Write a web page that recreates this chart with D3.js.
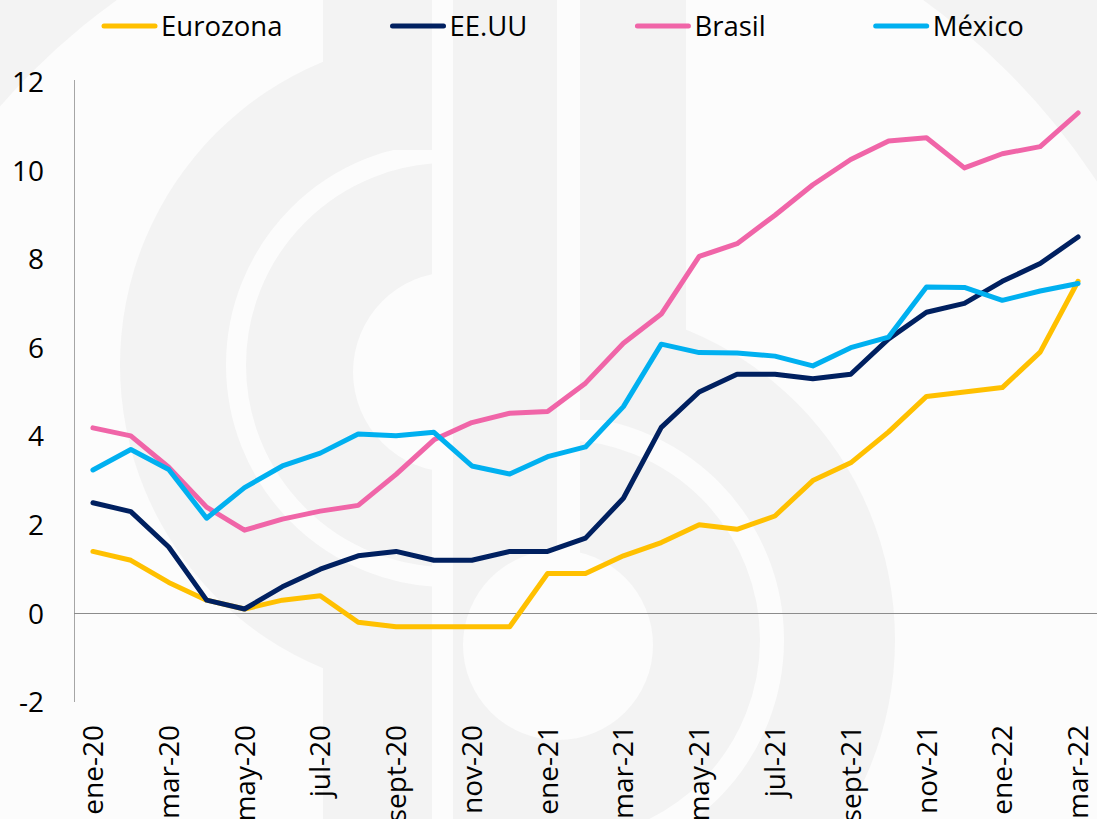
<!DOCTYPE html>
<html>
<head>
<meta charset="utf-8">
<script src="https://cdn.jsdelivr.net/npm/d3@7"></script>
<style>
  html, body { margin: 0; padding: 0; background: #fcfcfc; }
  svg { display: block; font-family: "Open Sans", sans-serif; }
</style>
</head>
<body>
<div id="chart"></div>
<script>
// monthly inflation, ene-20 .. mar-22
var months = ["ene-20","feb-20","mar-20","abr-20","may-20","jun-20","jul-20","ago-20","sept-20","oct-20","nov-20","dic-20",
              "ene-21","feb-21","mar-21","abr-21","may-21","jun-21","jul-21","ago-21","sept-21","oct-21","nov-21","dic-21",
              "ene-22","feb-22","mar-22"];
var eurozona = [1.4,1.2,0.7,0.3,0.1,0.3,0.4,-0.2,-0.3,-0.3,-0.3,-0.3,0.9,0.9,1.3,1.6,2.0,1.9,2.2,3.0,3.4,4.1,4.9,5.0,5.1,5.9,7.5];
var eeuu = [2.5,2.3,1.5,0.3,0.1,0.6,1.0,1.3,1.4,1.2,1.2,1.4,1.4,1.7,2.6,4.2,5.0,5.4,5.4,5.3,5.4,6.2,6.8,7.0,7.5,7.9,8.5];
var brasil = [4.19,4.01,3.30,2.40,1.88,2.13,2.31,2.44,3.14,3.92,4.31,4.52,4.56,5.20,6.10,6.76,8.06,8.35,8.99,9.68,10.25,10.67,10.74,10.06,10.38,10.54,11.30];
var mexico = [3.24,3.70,3.25,2.15,2.84,3.33,3.62,4.05,4.01,4.09,3.33,3.15,3.54,3.76,4.67,6.08,5.89,5.88,5.81,5.59,6.00,6.24,7.37,7.36,7.07,7.28,7.45];
var seriesNames = ["Eurozona", "EE.UU", "Brasil", "México"];
var seriesColors = ["#FFC000", "#002060", "#F065A8", "#00B0F0"];
var yTicks = [-2, 0, 2, 4, 6, 8, 10, 12];

(function() {
    var width = 1097, height = 819;
    var gray = "#f3f3f3", white = "#fcfcfc";

    var svg = d3.select("#chart").append("svg")
        .attr("width", width)
        .attr("height", height);

    // faint logo watermark in the background
    var defs = svg.append("defs");
    defs.append("clipPath").attr("id", "leftBowl")
        .append("rect").attr("x", 0).attr("y", 0).attr("width", 432).attr("height", height);
    defs.append("clipPath").attr("id", "rightBowl")
        .append("rect").attr("x", 453).attr("y", 0).attr("width", 644).attr("height", height);

    var wm = svg.append("g").attr("class", "watermark");
    var arc = d3.arc();
    wm.append("path")
        .attr("transform", "translate(520,560)")
        .attr("d", arc({ innerRadius: 690, outerRadius: 1200, startAngle: 0, endAngle: 2 * Math.PI }))
        .attr("fill", gray);

    // left "d"
    var left = wm.append("g").attr("clip-path", "url(#leftBowl)");
    left.append("circle").attr("cx", 448).attr("cy", 365).attr("r", 328).attr("fill", gray);
    left.append("rect").attr("x", 323).attr("y", 0).attr("width", 109).attr("height", height).attr("fill", gray);
    left.append("circle").attr("cx", 448).attr("cy", 365).attr("r", 212)
        .attr("fill", "none").attr("stroke", white).attr("stroke-width", 20);
    left.append("rect").attr("x", 323).attr("y", 0).attr("width", 109).attr("height", 150).attr("fill", gray);
    left.append("circle").attr("cx", 453).attr("cy", 372).attr("r", 100).attr("fill", white);

    // right "b"
    var right = wm.append("g").attr("clip-path", "url(#rightBowl)");
    right.append("circle").attr("cx", 560).attr("cy", 640).attr("r", 335).attr("fill", gray);
    right.append("circle").attr("cx", 560).attr("cy", 640).attr("r", 212)
        .attr("fill", "none").attr("stroke", white).attr("stroke-width", 24);
    right.append("rect").attr("x", 453).attr("y", 0).attr("width", 104).attr("height", height).attr("fill", gray);
    right.append("rect").attr("x", 580).attr("y", 0).attr("width", 106).attr("height", 420).attr("fill", gray);
    right.append("rect").attr("x", 557).attr("y", 0).attr("width", 23).attr("height", 560).attr("fill", white);
    right.append("circle").attr("cx", 558).attr("cy", 645).attr("r", 95).attr("fill", white);

    // scales
    var x = d3.scalePoint()
        .domain(d3.range(months.length))
        .range([74, 1097])
        .padding(0.5);

    var y = d3.scaleLinear()
        .domain([-2, 12])
        .range([702, 82]);

    // y axis labels (no ticks)
    svg.selectAll(".y-label")
        .data(yTicks)
        .enter().append("text")
        .attr("class", "y-label")
        .attr("x", 44)
        .attr("y", function(d) { return y(d); })
        .attr("dy", "0.36em")
        .attr("text-anchor", "end")
        .attr("font-size", 28)
        .attr("fill", "#000")
        .text(function(d) { return d; });

    // x axis labels, every second month, rotated
    svg.selectAll(".x-label")
        .data(d3.range(0, months.length, 2))
        .enter().append("text")
        .attr("class", "x-label")
        .attr("transform", function(i) { return "translate(" + x(i) + ",725) rotate(-90)"; })
        .attr("dy", "0.36em")
        .attr("text-anchor", "end")
        .attr("font-size", 28)
        .attr("fill", "#000")
        .text(function(i) { return months[i]; });

    // axis lines
    svg.append("line")
        .attr("x1", 74.5).attr("x2", 74.5)
        .attr("y1", y(12) - 2).attr("y2", y(-2))
        .attr("stroke", "#a6a6a6").attr("stroke-width", 1);
    svg.append("line")
        .attr("x1", 74).attr("x2", width)
        .attr("y1", Math.round(y(0)) + 0.5).attr("y2", Math.round(y(0)) + 0.5)
        .attr("stroke", "#8c8c8c").attr("stroke-width", 1);

    // series lines
    var line = d3.line()
        .x(function(d, i) { return x(i); })
        .y(function(d) { return y(d); });

    var allSeries = [eurozona, eeuu, brasil, mexico];
    svg.selectAll(".series")
        .data(allSeries)
        .enter().append("path")
        .attr("class", "series")
        .attr("d", line)
        .attr("fill", "none")
        .attr("stroke", function(d, i) { return seriesColors[i]; })
        .attr("stroke-width", 5)
        .attr("stroke-linejoin", "round")
        .attr("stroke-linecap", "round");

    // legend, items laid out one after another
    var legend = svg.append("g").attr("class", "legend");
    var lx = 102;
    seriesNames.forEach(function(name, i) {
        legend.append("line")
            .attr("x1", lx + 2).attr("x2", lx + 53)
            .attr("y1", 26).attr("y2", 26)
            .attr("stroke", seriesColors[i])
            .attr("stroke-width", 5)
            .attr("stroke-linecap", "round");
        var t = legend.append("text")
            .attr("x", lx + 59)
            .attr("y", 26)
            .attr("dy", "0.36em")
            .attr("font-size", 27.5)
            .attr("fill", "#000")
            .text(name);
        lx = lx + 59 + t.node().getComputedTextLength() + 108;
    });
})();
</script>
</body>
</html>
